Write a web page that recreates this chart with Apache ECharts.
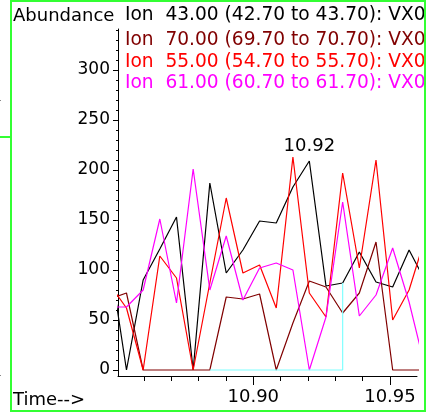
<!DOCTYPE html>
<html>
<head>
<meta charset="utf-8">
<script src="https://cdn.jsdelivr.net/npm/echarts@6.0.0/dist/echarts.min.js"></script>
<style>
    html, body { margin: 0; padding: 0; background: #fff; }
    #chart { width: 427px; height: 413px; }
</style>
</head>
<body>
<div id="chart"></div>
<script>
// retention time (min) of each scan
let times = [10.8476, 10.8536, 10.8597, 10.8658, 10.8719, 10.8780, 10.8841, 10.8901, 10.8962, 10.9023,
             10.9084, 10.9145, 10.9205, 10.9266, 10.9327, 10.9388, 10.9449, 10.9510, 10.9570, 10.9631];

let ion43 = [108, 0, 90, 121, 153, 0, 187, 97, 120, 149, 147, 183, 209, 84, 87, 118, 88, 83, 120, 88];
let ion70 = [71, 77, 0, 0, 0, 0, 0, 73, 71, 76, 0, 47, 89, 83, 57, 77, 128, 0, 0, 0];
let ion55 = [85, 62, 0, 114, 92, 0, 87, 172, 97, 105, 62, 213, 77, 53, 197, 102, 210, 50, 80, 134];
let ion61 = [63, 63, 80, 151, 67, 201, 80, 134, 70, 102, 107, 100, 0, 53, 168, 54, 75, 122, 68, 0];

// integration baseline
let baseTimes = [10.8841, 10.9327, 10.9327];
let baseValues = [0, 0, 87];

let ionNames = [
    'Ion  43.00 (42.70 to 43.70): VX0',
    'Ion  70.00 (69.70 to 70.70): VX0',
    'Ion  55.00 (54.70 to 55.70): VX0',
    'Ion  61.00 (60.70 to 61.70): VX0'
];
let ionColors = ['#000000', '#800000', '#ff0000', '#ff00ff'];

let yMinorTicks = [0, 10, 20, 30, 40, 50, 60, 70, 80, 90, 100, 110, 120, 130, 140, 150, 160, 170,
                   180, 190, 200, 210, 220, 230, 240, 250, 260, 270, 280, 290, 300, 310, 320, 330, 340];
let yLabels = [0, 50, 100, 150, 200, 250, 300];
let xMinorTicks = [10.86, 10.87, 10.88, 10.89, 10.90, 10.91, 10.92, 10.93, 10.94, 10.95];
let xLabels = [10.90, 10.95];

const FONT = 'DejaVu Sans';
const X_MIN = 10.8505, X_MAX = 10.9599;
const Y_MIN = -6, Y_MAX = 341;

function pairs(xs, ys) {
    return xs.map(function (x, i) { return [x, ys[i]]; });
}

let chart = echarts.init(document.getElementById('chart'), null, { renderer: 'canvas' });

let allIons = [ion43, ion70, ion55, ion61];
let series = allIons.map(function (vals, k) {
    let s = {
        name: ionNames[k],
        type: 'line',
        data: pairs(times, vals),
        symbol: 'none',
        clip: true,
        lineStyle: { color: ionColors[k], width: 1.2 },
        itemStyle: { color: ionColors[k] }
    };
    if (k === 0) {
        // label the apex with its retention time
        let top = vals.indexOf(Math.max.apply(null, vals));
        s.markPoint = {
            silent: true,
            symbol: 'circle',
            symbolSize: 1,
            itemStyle: { color: 'rgba(0,0,0,0)' },
            label: {
                show: true,
                position: 'top',
                distance: 5,
                color: '#000',
                fontFamily: FONT,
                fontSize: 18,
                formatter: function (p) { return p.data.coord[0].toFixed(2); }
            },
            data: [{ coord: [times[top], vals[top]] }]
        };
    }
    return s;
});
series.push({
    type: 'line',
    data: pairs(baseTimes, baseValues),
    symbol: 'none',
    lineStyle: { color: '#80ffff', width: 1.2 }
});

let graphics = [
    { type: 'text', left: 13, top: 7, style: { text: 'Abundance', fill: '#000', font: '18px "' + FONT + '"' } },
    { type: 'text', left: 13, top: 391, style: { text: 'Time-->', fill: '#000', font: '18px "' + FONT + '"' } }
];
let legendY = [15, 40, 61.7, 83];
ionNames.forEach(function (nm, k) {
    graphics.push({
        type: 'text', x: 125, y: legendY[k],
        style: { text: nm, fill: ionColors[k], font: '18.6px "' + FONT + '"', textVerticalAlign: 'middle' }
    });
});
graphics.push(
    { type: 'rect', shape: { x: 426, y: 0, width: 1, height: 413 }, style: { fill: '#fff' }, z: 100 },
    { type: 'rect', shape: { x: 11, y: 1, width: 414, height: 410 }, style: { fill: null, stroke: '#33ff33', lineWidth: 2 }, z: 101 },
    { type: 'rect', shape: { x: 0, y: 136, width: 11, height: 2 }, style: { fill: '#33ff33' }, z: 101 },
    { type: 'rect', shape: { x: 0, y: 100, width: 1, height: 1 }, style: { fill: '#888' } },
    { type: 'rect', shape: { x: 0, y: 375, width: 1, height: 1 }, style: { fill: '#888' } }
);

let option = {
    animation: false,
    backgroundColor: '#fff',
    grid: { left: 118, right: 10, top: 29, bottom: 37, containLabel: false },
    xAxis: [
        {
            type: 'value', position: 'bottom', min: X_MIN, max: X_MAX,
            axisLine: { show: true, onZero: false, lineStyle: { color: '#000', width: 1 } },
            axisTick: { show: true, length: 5, customValues: xMinorTicks, lineStyle: { color: '#000' } },
            axisLabel: { show: false },
            splitLine: { show: false }
        },
        {
            type: 'value', position: 'bottom', min: X_MIN, max: X_MAX,
            axisLine: { show: false, onZero: false },
            axisTick: { show: true, length: 9, customValues: xLabels, lineStyle: { color: '#000' } },
            axisLabel: {
                show: true, customValues: xLabels, margin: 12,
                color: '#000', fontFamily: FONT, fontSize: 18,
                formatter: function (v) { return v.toFixed(2); }
            },
            splitLine: { show: false }
        }
    ],
    yAxis: [
        {
            type: 'value', position: 'left', min: Y_MIN, max: Y_MAX,
            axisLine: { show: true, onZero: false, lineStyle: { color: '#000', width: 1 } },
            axisTick: { show: true, length: 2, customValues: yMinorTicks, lineStyle: { color: '#000' } },
            axisLabel: { show: false },
            splitLine: { show: false }
        },
        {
            type: 'value', position: 'left', min: Y_MIN, max: Y_MAX,
            axisLine: { show: false, onZero: false },
            axisTick: { show: true, length: 5, customValues: yLabels, lineStyle: { color: '#000' } },
            axisLabel: {
                show: true, customValues: yLabels, margin: 8,
                color: '#000', fontFamily: FONT, fontSize: 17
            },
            splitLine: { show: false }
        }
    ],
    graphic: graphics,
    series: series
};
chart.setOption(option);
</script>
</body>
</html>
